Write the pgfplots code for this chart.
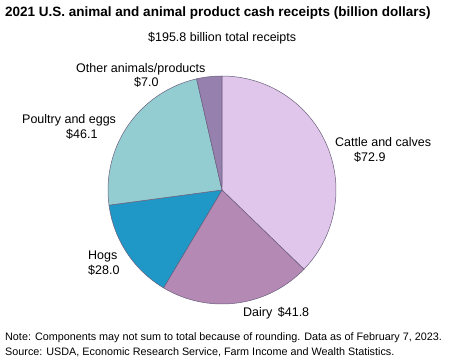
\documentclass[border=0pt]{standalone}
\usepackage{pgfplots}
\pgfplotsset{compat=1.18}
\usepackage{fontspec}
\setmainfont{Liberation Sans}
\definecolor{cattle}{RGB}{224,198,234}
\definecolor{dairy}{RGB}{180,137,180}
\definecolor{hogs}{RGB}{31,152,199}
\definecolor{poultry}{RGB}{147,205,209}
\definecolor{other}{RGB}{150,128,174}
\definecolor{edge}{RGB}{105,95,125}
% values (billion dollars)
\def\vCattle{72.9}
\def\vDairy{41.8}
\def\vHogs{28.0}
\def\vPoultry{46.1}
\def\vOther{7.0}
\pgfmathsetmacro\tot{\vCattle+\vDairy+\vHogs+\vPoultry+\vOther}
\pgfmathsetmacro\aA{90}
\pgfmathsetmacro\aB{\aA-\vCattle/\tot*360}
\pgfmathsetmacro\aC{\aB-\vDairy/\tot*360}
\pgfmathsetmacro\aD{\aC-\vHogs/\tot*360}
\pgfmathsetmacro\aE{\aD-\vPoultry/\tot*360}
\pgfmathsetmacro\aF{\aE-\vOther/\tot*360}
\def\R{114}
\newcommand\px[2]{(axis cs:{#1-222},{190-#2})}
\begin{document}
\begin{tikzpicture}
\path[use as bounding box] (-222pt,-169pt) rectangle (228pt,190pt);
\begin{axis}[x=1pt,y=1pt,anchor=origin,at={(0,0)},hide axis,clip=false,
  xmin=-222,xmax=228,ymin=-169,ymax=190]
\addplot[fill=cattle,draw=edge,line width=0.5pt,domain=\aB:\aA,samples=80,variable=\t] ({\R*cos(t)},{\R*sin(t)}) -- (axis cs:0,0) -- cycle;
\addplot[fill=dairy,draw=edge,line width=0.5pt,domain=\aC:\aB,samples=60,variable=\t] ({\R*cos(t)},{\R*sin(t)}) -- (axis cs:0,0) -- cycle;
\addplot[fill=hogs,draw=edge,line width=0.5pt,domain=\aD:\aC,samples=50,variable=\t] ({\R*cos(t)},{\R*sin(t)}) -- (axis cs:0,0) -- cycle;
\addplot[fill=poultry,draw=edge,line width=0.5pt,domain=\aE:\aD,samples=60,variable=\t] ({\R*cos(t)},{\R*sin(t)}) -- (axis cs:0,0) -- cycle;
\addplot[fill=other,draw=edge,line width=0.5pt,domain=\aF:\aE,samples=20,variable=\t] ({\R*cos(t)},{\R*sin(t)}) -- (axis cs:0,0) -- cycle;
% texts
\node[anchor=base west,inner sep=0pt,font=\fontsize{13.5}{15}\selectfont\bfseries] at \px{5}{17} {2021 U.S. animal and animal product cash receipts (billion dollars)};
\node[anchor=base west,inner sep=0pt,font=\fontsize{12.5}{14}\selectfont] at \px{148}{42} {\$195.8 billion total receipts};
\node[anchor=base west,inner sep=0pt,font=\fontsize{12.5}{14}\selectfont] at \px{76}{73} {Other animals/products};
\node[anchor=base west,inner sep=0pt,font=\fontsize{12.5}{14}\selectfont] at \px{134}{87} {\$7.0};
\node[anchor=base west,inner sep=0pt,font=\fontsize{12.5}{14}\selectfont] at \px{22}{124} {Poultry and eggs};
\node[anchor=base west,inner sep=0pt,font=\fontsize{12.5}{14}\selectfont] at \px{66}{139} {\$46.1};
\node[anchor=base west,inner sep=0pt,font=\fontsize{12.5}{14}\selectfont] at \px{335}{146} {Cattle and calves};
\node[anchor=base west,inner sep=0pt,font=\fontsize{12.5}{14}\selectfont] at \px{354}{162} {\$72.9};
\node[anchor=base west,inner sep=0pt,font=\fontsize{12.5}{14}\selectfont] at \px{88}{259} {Hogs};
\node[anchor=base west,inner sep=0pt,font=\fontsize{12.5}{14}\selectfont] at \px{88}{274} {\$28.0};
\node[anchor=base west,inner sep=0pt,font=\fontsize{12.5}{14}\selectfont] at \px{243}{316} {Dairy \,\$41.8};
\node[anchor=base west,inner sep=0pt,font=\fontsize{10.8}{13}\selectfont] at \px{5}{340} {Note: Components may not sum to total because of rounding. Data as of February 7, 2023.};
\node[anchor=base west,inner sep=0pt,font=\fontsize{10.8}{13}\selectfont] at \px{5}{355} {Source: USDA, Economic Research Service, Farm Income and Wealth Statistics.};
\end{axis}
\end{tikzpicture}
\end{document}
